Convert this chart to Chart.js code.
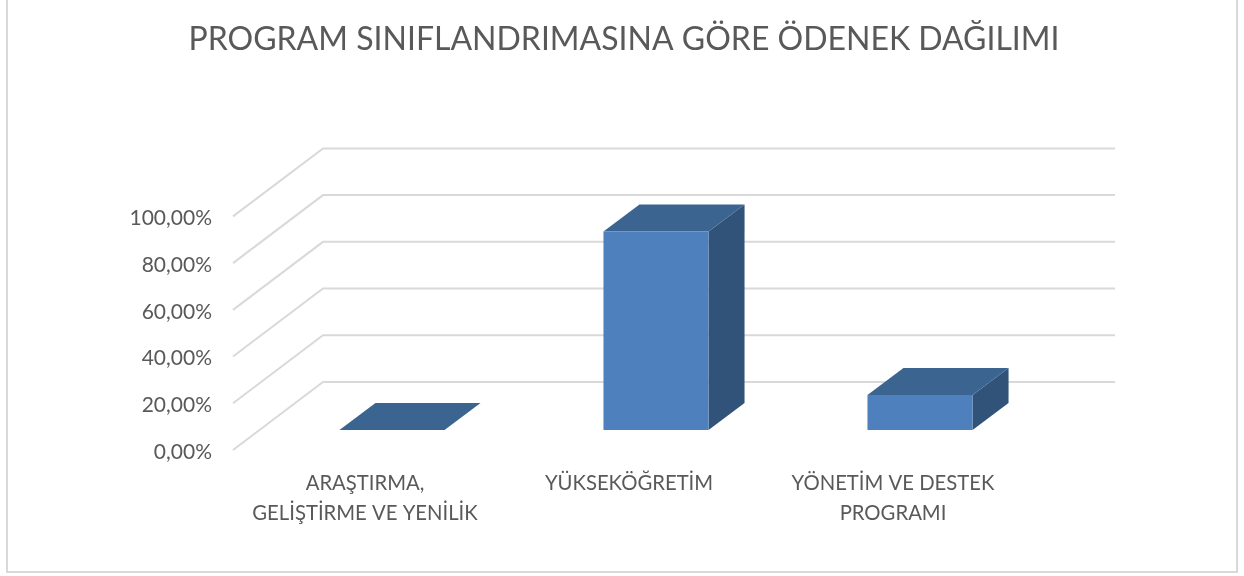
<!DOCTYPE html>
<html><head><meta charset="utf-8">
<style>html,body{margin:0;padding:0;background:#fff}#w{width:1244px;height:576px}</style>
<script src="https://cdn.jsdelivr.net/npm/chart.js@4"></script></head>
<body><div id="w"><canvas id="c" width="1244" height="576"></canvas></div>
<script>
const categories=[["ARAŞTIRMA,","GELİŞTİRME VE YENİLİK"],"YÜKSEKÖĞRETİM",["YÖNETİM VE DESTEK","PROGRAMI"]];
const shares=[0,85,15];
const titleText="PROGRAM SINIFLANDRIMASINA GÖRE ÖDENEK DAĞILIMI";
const tickValues=[0,20,40,60,80,100];

const WALL_DX=90,WALL_DY=68,BAR_SHIFT_X=27,BAR_SHIFT_Y=-20,BAR_DX=36,BAR_DY=27;
const GRID='#d9d9d9',TEXT='#595959',TOP='#3c6491',SIDE='#31537a';
function poly(ctx,pts,fill){ctx.beginPath();pts.forEach((p,i)=>i?ctx.lineTo(p[0],p[1]):ctx.moveTo(p[0],p[1]));ctx.closePath();ctx.fillStyle=fill;ctx.fill();}
const threeD={id:'threeD',
 beforeDraw(ch){const c=ch.ctx;c.save();c.strokeStyle=GRID;c.lineWidth=2;
   c.beginPath();c.moveTo(7,0);c.lineTo(7,572);c.lineTo(1237,572);c.lineTo(1237,0);c.stroke();c.restore();},
 beforeDatasetsDraw(ch){const c=ch.ctx,y=ch.scales.y,a=ch.chartArea;
   c.save();c.strokeStyle=GRID;c.lineWidth=2;
   tickValues.forEach(v=>{const p=y.getPixelForValue(v);
     c.beginPath();c.moveTo(a.left,p);c.lineTo(a.left+WALL_DX,p-WALL_DY);
     c.lineTo(a.right+WALL_DX,p-WALL_DY);c.stroke();});
   c.restore();
   c.save();c.translate(BAR_SHIFT_X,BAR_SHIFT_Y);
   ch.getDatasetMeta(0).data.forEach(b=>{const l=b.x-b.width/2,r=b.x+b.width/2,t=b.y,bt=b.base;
     poly(c,[[r,t],[r+BAR_DX,t-BAR_DY],[r+BAR_DX,bt-BAR_DY],[r,bt]],SIDE);
     poly(c,[[l,t],[l+BAR_DX,t-BAR_DY],[r+BAR_DX,t-BAR_DY],[r,t]],TOP);});
 },
 afterDatasetsDraw(ch){ch.ctx.restore();}
};
new Chart(document.getElementById('c'),{type:'bar',
 data:{labels:categories,datasets:[{data:shares,yAxisID:'y',backgroundColor:'#4e80bd',barPercentage:0.398,categoryPercentage:1,clip:false}]},
 plugins:[threeD],
 options:{responsive:false,animation:false,
  layout:{padding:{left:4,right:0,top:0,bottom:0}},
  plugins:{legend:{display:false},tooltip:{enabled:false},
   title:{display:true,text:titleText,color:TEXT,font:{family:'Lato',size:32,weight:'normal'},padding:{top:20,bottom:158}}},
  scales:{
   x:{grid:{display:false},border:{display:false},
      ticks:{color:TEXT,font:{family:'Lato',size:20.3,lineHeight:1.48},padding:10,maxRotation:0,autoSkip:false},
      afterFit(s){s.height=126;}},
   y:{min:0,max:100,grid:{display:false},border:{display:false},
      afterBuildTicks(s){s.ticks=tickValues.map(v=>({value:v}));},
      ticks:{color:TEXT,font:{family:'Lato',size:21},padding:13,labelOffset:2,
        callback:v=>v.toFixed(2).replace('.',',')+'%'},
      afterFit(s){s.width=229;}},
   r:{position:'right',grid:{display:false},border:{display:false},ticks:{display:false},
      afterFit(s){s.width=219;}}
  }}});
</script></body></html>
